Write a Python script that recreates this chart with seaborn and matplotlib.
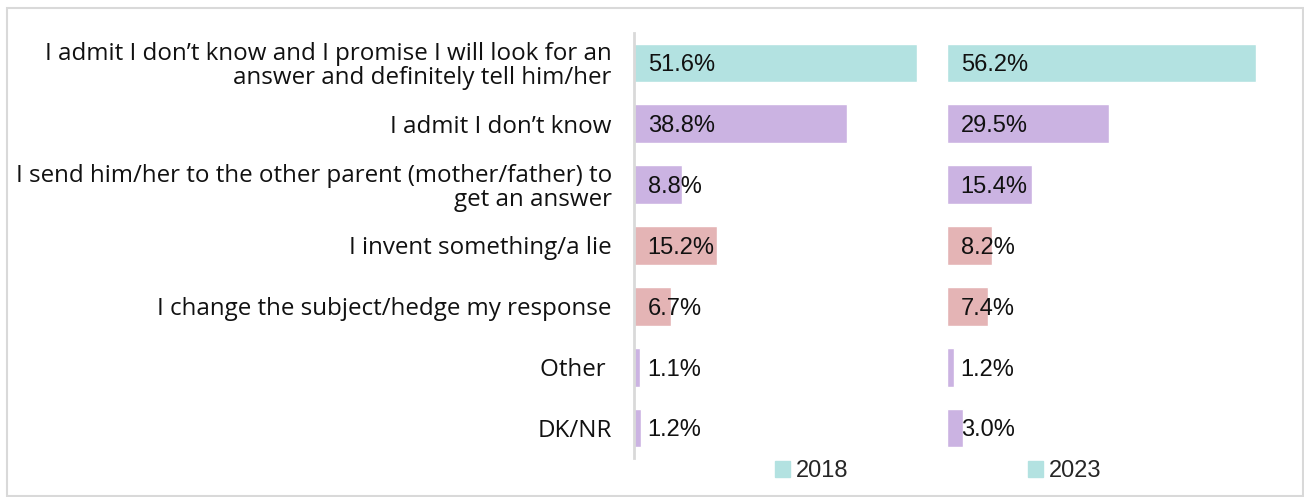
import matplotlib
matplotlib.use("Agg")
import matplotlib.pyplot as plt
import matplotlib.patches as mpatches
import seaborn as sns
import pandas as pd

# answers (wrapped as in the original)
answers = [
    "I admit I don\u2019t know and I promise I will look for an\nanswer and definitely tell him/her",
    "I admit I don\u2019t know",
    "I send him/her to the other parent (mother/father) to\nget an answer",
    "I invent something/a lie",
    "I change the subject/hedge my response",
    "Other ",
    "DK/NR",
]
values_2018 = [51.6, 38.8, 8.8, 15.2, 6.7, 1.1, 1.2]
values_2023 = [56.2, 29.5, 15.4, 8.2, 7.4, 1.2, 3.0]
years = ["2018", "2023"]

teal = "#b3e2e1"
lilac = "#cbb3e2"
rose = "#e4b4b5"
bar_colors = [teal, lilac, lilac, rose, rose, lilac, lilac]

sns.set_style("white")
plt.rcParams["font.family"] = ["Open Sans", "DejaVu Sans"]
num_font = ["Liberation Sans", "DejaVu Sans"]

fig = plt.figure(figsize=(13.04, 4.97), dpi=100)

# light grey frame around the whole chart
fig.patches.append(mpatches.Rectangle((7 / 1304, 0.002), 1296 / 1304, 1 - 8 / 497 - 0.002,
                                      transform=fig.transFigure, fill=False,
                                      edgecolor="#d9d9d9", linewidth=1.5))

ax1 = fig.add_axes([634 / 1304, 1 - 458.4 / 497, 313 / 1304, 425.8 / 497])
ax2 = fig.add_axes([947 / 1304, 1 - 458.4 / 497, 313 / 1304, 425.8 / 497])

for ax, vals in [(ax1, values_2018), (ax2, values_2023)]:
    df = pd.DataFrame({"answer": answers, "pct": vals})
    sns.barplot(data=df, y="answer", x="pct", hue="answer", palette=bar_colors,
                legend=False, width=0.64, saturation=1, ax=ax)
    ax.set_xlim(0, 57)
    ax.set_xlabel("")
    ax.set_ylabel("")
    ax.set_xticks([])
    for i, v in enumerate(vals):
        ax.text(2.5, i + 0.04, f"{v:.1f}%", va="center", ha="left", fontsize=17,
                family=num_font, color="#111111")
    for s in ["top", "right", "bottom", "left"]:
        ax.spines[s].set_visible(False)

ax1.spines["left"].set_visible(True)
ax1.spines["left"].set_color("#d9d9d9")
ax1.spines["left"].set_linewidth(2)
ax1.tick_params(axis="y", length=0, pad=16, labelsize=17.4)
for lbl in ax1.get_yticklabels():
    lbl.set_color("#111111")
    lbl.set_linespacing(1.0)
ax2.set_yticks([])

handles = [mpatches.Patch(color=teal, label=y) for y in years]
fig.legend(handles=handles, loc="center", bbox_to_anchor=(938 / 1304, 1 - 471 / 497),
           ncol=2, frameon=False, handlelength=0.64, handleheight=0.64,
           handletextpad=0.25, columnspacing=7.6,
           prop={"family": num_font, "size": 17})

fig.savefig("out.png", dpi=100)
